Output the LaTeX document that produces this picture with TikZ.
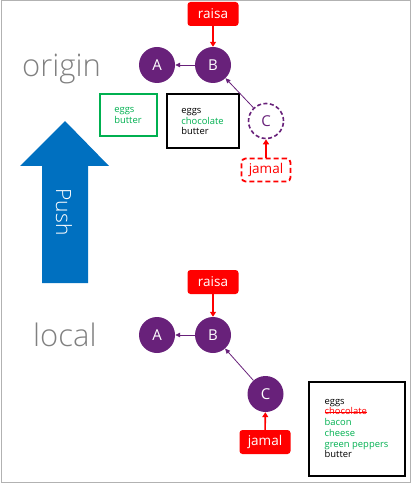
\documentclass[tikz,border=0pt]{standalone}
\usepackage{fontspec}
\setmainfont{Open Sans}
\newfontfamily\lightfont{Open Sans Light}
\usetikzlibrary{arrows.meta,positioning}
\definecolor{commitpurple}{RGB}{104,33,122}
\definecolor{branchred}{RGB}{255,0,0}
\definecolor{addgreen}{RGB}{0,176,80}
\definecolor{pushblue}{RGB}{0,112,192}
\newlength\strikelen
\newcommand\strikeword[1]{\settowidth\strikelen{#1}\rlap{\rule[0.27em]{\strikelen}{0.7pt}}#1}

\begin{document}
\begin{tikzpicture}[x=1pt,y=-1pt]
 \tikzset{
commit/.style = {circle, fill=commitpurple, text=white, minimum size=36pt, inner sep=0pt, font=\fontsize{15}{15}\selectfont},
newcommit/.style = {circle, draw=commitpurple, dash pattern=on 4pt off 2.5pt, line width=1.6pt, fill=white, text=commitpurple, minimum size=35pt, inner sep=0pt, font=\fontsize{15}{15}\selectfont},
branch/.style = {rectangle, rounded corners=3pt, fill=branchred, text=white, minimum width=51pt, minimum height=24pt, inner sep=0pt, font=\fontsize{13.5}{13.5}\selectfont},
newbranch/.style = {rectangle, rounded corners=4pt, draw=branchred, dash pattern=on 5pt off 3pt, line width=1.8pt, fill=white, text=branchred, minimum width=49pt, minimum height=23pt, inner sep=0pt, font=\fontsize{13.5}{13.5}\selectfont},
file/.style = {rectangle, draw=black, line width=2pt, align=left, inner sep=0pt, font=\fontsize{9.4}{10.7}\selectfont},
place/.style = {text=gray, inner sep=0pt, font=\lightfont\fontsize{31}{31}\selectfont},
tocommit/.style = {draw=commitpurple, line width=0.8pt, -{Triangle[length=5pt,width=4.5pt]}},
tobranch/.style = {draw=branchred, line width=1.6pt, -{Triangle[length=5pt,width=6pt]}}}

\useasboundingbox (0,0) rectangle (415,486);
\draw [gray!60, line width=1pt] (1,1) rectangle (410,482);

% origin
\node [place, anchor=base west] (origin) at (22,77) {origin};
\node [commit] (oA) at (157,65) {A};
\node [commit] (oB) at (213,65) {B};
\node [newcommit] (oC) at (266,121) {C};
\node [branch] (oraisa) at (213,14) {raisa};
\node [newbranch] (ojamal) at (266,170) {jamal};
\node [file, draw=addgreen, text=addgreen, minimum width=57pt, minimum height=42pt] (ofileA) at (128,115.5) {eggs\\butter};
\node [file, minimum width=72pt, minimum height=54pt] (ofileB) at (202.5,121.5) {eggs\\\textcolor{addgreen}{chocolate}\\butter};

\draw [tobranch] (oraisa) -- (oB);
\draw [tocommit] (oB) -- (oA);
\draw [tocommit] (oC) -- (oB);
\draw [tobranch] (ojamal) -- (oC);

% push
\fill [pushblue] (65,121) -- (109,166) -- (88,166) -- (88,283) -- (42,283) -- (42,166) -- (20,166) -- cycle;
\node [text=white, rotate=-90, font=\lightfont\fontsize{21}{21}\selectfont] (push) at (64,212) {Push};

% local
\node [place, anchor=base west] (local) at (33,346) {local};
\node [commit] (lA) at (157,335) {A};
\node [commit] (lB) at (213,335) {B};
\node [commit] (lC) at (265.5,394) {C};
\node [branch] (lraisa) at (213,282) {raisa};
\node [branch] (ljamal) at (265,442) {jamal};
\node [file, minimum width=96pt, minimum height=94pt] (lfile) at (356.5,428.5) {eggs\\\textcolor{branchred}{\strikeword{chocolate}}\\\textcolor{addgreen}{bacon}\\\textcolor{addgreen}{cheese}\\\textcolor{addgreen}{green peppers}\\butter};

\draw [tobranch] (lraisa) -- (lB);
\draw [tocommit] (lB) -- (lA);
\draw [tocommit] (lC) -- (lB);
\draw [tobranch] (ljamal) -- (lC);

\end{tikzpicture}
\end{document}
